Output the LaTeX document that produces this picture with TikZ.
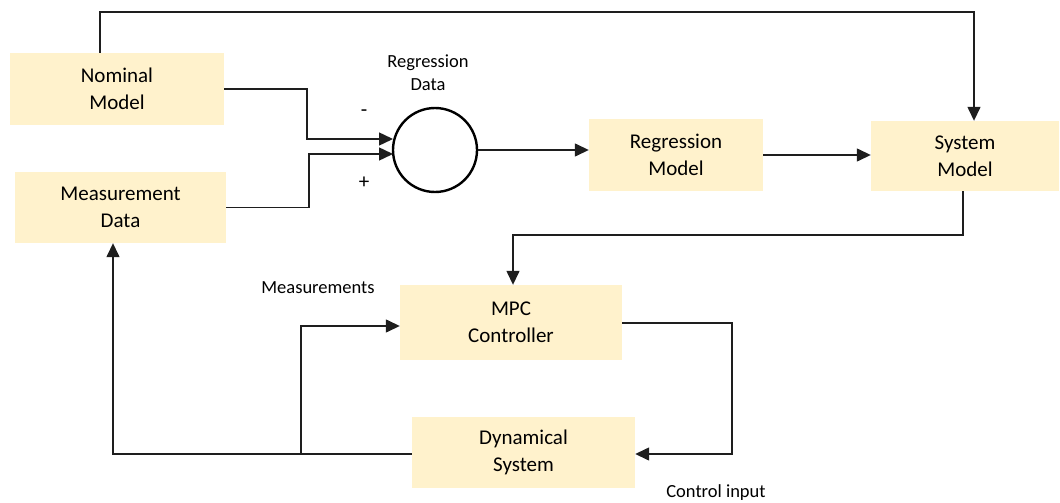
\documentclass[tikz,border=0pt]{standalone}
\usepackage{fontspec}
\setmainfont{Carlito}
\usetikzlibrary{arrows.meta,calc}
\definecolor{boxfill}{HTML}{FFF2CC}
\definecolor{wire}{HTML}{1E1E1E}
\begin{document}
\begin{tikzpicture}[x=1pt,y=-1pt,
  block/.style={fill=boxfill,draw=none,align=center,inner sep=0pt,
    font=\fontsize{21}{27}\selectfont},
  lbl/.style={align=center,inner sep=0pt,font=\fontsize{18.5}{23}\selectfont},
  sign/.style={inner sep=0pt,font=\fontsize{21}{25}\selectfont},
  arr/.style={draw=wire,line width=1.4pt,-{Triangle[length=14pt,width=13pt]}},
  wireline/.style={draw=wire,line width=1.4pt}]
\useasboundingbox (0,0) rectangle (1060,503);

% blocks
\node[block,minimum width=214pt,minimum height=72pt] (nominal) at (117,89) {Nominal\\Model};
\node[block,minimum width=211pt,minimum height=71pt] (meas) at (120.5,207.5) {Measurement\\Data};
\node[draw=black,line width=2.4pt,circle,minimum size=84pt,inner sep=0pt] (sum) at (435,150) {};
\node[block,minimum width=174pt,minimum height=72pt] (regm) at (676,155) {Regression\\Model};
\node[block,minimum width=188pt,minimum height=70pt] (sysm) at (965,156) {System\\Model};
\node[block,minimum width=222pt,minimum height=75pt] (mpc) at (511,322.5) {MPC\\Controller};
\node[block,minimum width=223pt,minimum height=71pt] (dyn) at (523.5,452.5) {Dynamical\\System};

% labels
\node[lbl] (rdata) at (428,73) {Regression\\Data};
\node[lbl] (measlbl) at (318,288) {Measurements};
\node[lbl] (ctrl) at (716,493) {Control input};
\node[sign] (minus) at (364,113) {-};
\node[sign] (plus) at (364,183) {+};

% routing points
\coordinate (t1) at (100,12);
\coordinate (t2) at (974,12);
\coordinate (n1) at (307,139);
\coordinate (nin) at (393,139);
\coordinate (m1) at (309,154);
\coordinate (min) at (393,154);
\coordinate (s1) at (963,235);
\coordinate (s2) at (513,235);
\coordinate (c1) at (732,323);
\coordinate (c2) at (732,454);
\coordinate (d1) at (113,454);
\coordinate (b1) at (301,454);
\coordinate (b2) at (301,326);

% connectors
\draw[arr] (t1 |- nominal.north) -- (t1) -- (t2) -- (t2 |- sysm.north);
\draw[arr] (nominal.east) -| (n1) -- (nin);
\draw[arr] (meas.east) -| (m1) -- (min);
\draw[arr] (sum.east) -- (sum.east -| regm.west);
\draw[arr] (regm.east) -- (regm.east -| sysm.west);
\draw[arr] (s1 |- sysm.south) -- (s1) -- (s2) -- (s2 |- mpc.north);
\draw[arr] (c1 -| mpc.east) -- (c1) -- (c2) -- (c2 -| dyn.east);
\draw[arr] (d1 -| dyn.west) -- (d1) -- (d1 |- meas.south);
\draw[arr] (b1) -- (b2) -- (b2 -| mpc.west);
\end{tikzpicture}
\end{document}
